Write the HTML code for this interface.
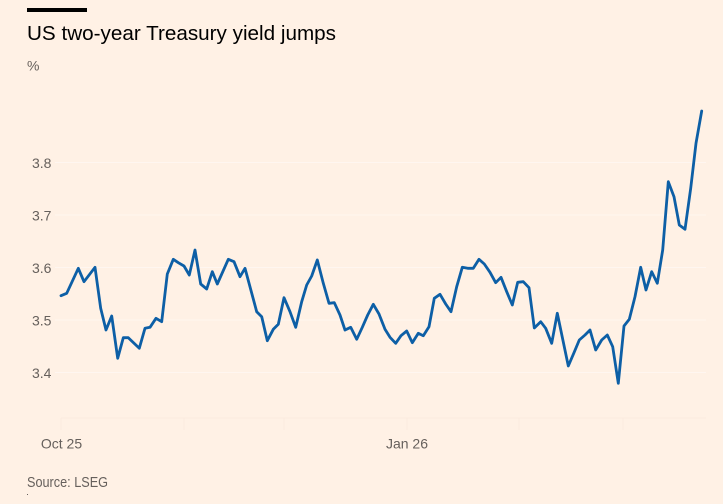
<!DOCTYPE html>
<html>
<head>
<meta charset="utf-8">
<style>
html,body{margin:0;padding:0;background:#FFF1E5;}
svg{display:block;}
text{font-family:"Liberation Sans",sans-serif;}
</style>
</head>
<body>
<svg width="723" height="504" viewBox="0 0 723 504" xmlns="http://www.w3.org/2000/svg">
<rect width="723" height="504" fill="#FFF1E5"/>
<rect x="27" y="8" width="60" height="4" fill="#000"/>
<text x="27" y="40" font-size="20.5" fill="#000" textLength="309" lengthAdjust="spacingAndGlyphs">US two-year Treasury yield jumps</text>
<text x="27" y="70.5" font-size="14" fill="#66605C">%</text>

<g stroke="#FFF6F0" stroke-width="1">
<line x1="55" y1="162.5" x2="706" y2="162.5"/>
<line x1="55" y1="215" x2="706" y2="215"/>
<line x1="55" y1="267.5" x2="706" y2="267.5"/>
<line x1="55" y1="320" x2="706" y2="320"/>
<line x1="55" y1="372.5" x2="706" y2="372.5"/>
</g>
<g stroke="#FBEBDF" stroke-width="1">
<line x1="61" y1="418" x2="706" y2="418"/>
<line x1="61" y1="418" x2="61" y2="430"/>
<line x1="184" y1="418" x2="184" y2="430"/>
<line x1="284" y1="418" x2="284" y2="430"/>
<line x1="407" y1="418" x2="407" y2="430"/>
<line x1="519" y1="418" x2="519" y2="430"/>
<line x1="623" y1="418" x2="623" y2="430"/>
</g>

<g font-size="14" fill="#66605C">
<text x="32" y="168">3.8</text>
<text x="32" y="220.5">3.7</text>
<text x="32" y="273">3.6</text>
<text x="32" y="325.5">3.5</text>
<text x="32" y="378">3.4</text>
<text x="61.5" y="448.3" text-anchor="middle">Oct 25</text>
<text x="407" y="448.3" text-anchor="middle">Jan 26</text>
<text x="27" y="487" font-size="14.5" textLength="81" lengthAdjust="spacingAndGlyphs">Source: LSEG</text>
</g>
<rect x="27" y="494" width="1" height="1" fill="#66605C"/>

<polyline fill="none" stroke="#0D5FA6" stroke-width="2.8" stroke-linejoin="round" stroke-linecap="round" points="
61,295.7 66.7,293.3 78.3,268.3 84,281.7 95,267.3 100.7,308.3 106,330 111.7,316 117.7,358.3 123.3,337.7 128.3,337.7 139.3,348.3 145,328.3 150,327.3 156,318.3 161.7,321.7 167.3,274 173.3,259.3 178.3,262.7 184,266 189.3,275 195,250 200.7,284 206.7,289 212.3,271.7 217.3,284 228.3,259.3 234,261.7 240,276.7 245,268.3 256.7,311.7 261.7,316.7 267.3,340.7 273.3,329.3 278.3,324.3 284,297.7 290,311.7 295.7,327.3 301.7,301.7 306.7,285 311.7,276 317.3,260 323.3,283.3 329,303.3 334.3,302.7 340,315 345,330 350.7,327.3 356.7,339.3 362.3,327.3 367.7,315 373.3,304.3 379,314 385,329.3 390,337.3 395.7,343.3 401,335.7 406.7,331 412.3,342.7 418.3,333.3 423.3,335.7 429,326.7 434.3,298.3 440,294.3 445.7,304 451,311.7 456.7,286.7 462.3,267.3 467.7,268.3 473.3,268.3 479,259.3 484.3,264 490,272.3 495.7,282.7 501,277.3 506.7,291.7 512.3,305 517.7,282.3 523.3,281.7 529,287.7 534.3,328 540.7,321.7 545.7,328.3 551.7,343.3 557.3,313.3 568.3,366 574,352.7 579.3,340 585,335 590,330 595.7,350 601.7,340 607.3,335 612.7,346.7 618.3,383.3 624,326 629.3,319.3 635,296.7 640.7,267.3 646,290 651.7,271.7 657.3,283.3 662.7,250 668.3,181.7 674,196.7 679.3,225 685,229.3 690.7,188.3 696,143.3 701.7,111"/>
</svg>
</body>
</html>
